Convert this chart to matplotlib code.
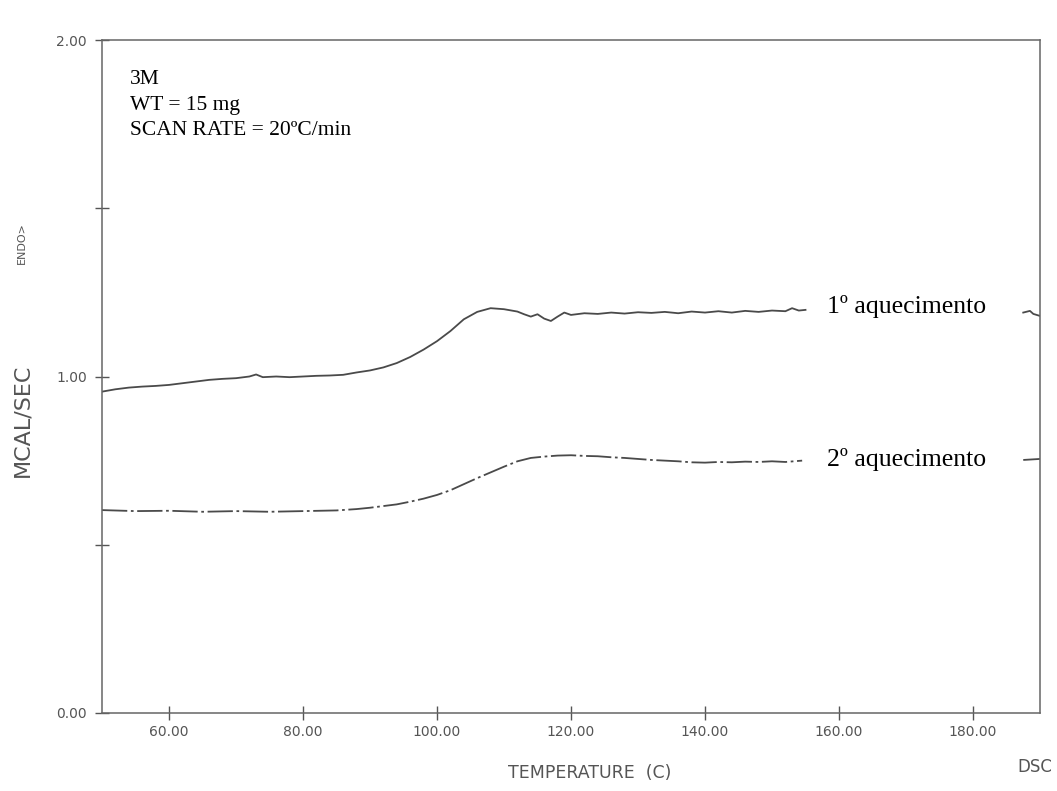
import numpy as np
import matplotlib
matplotlib.use('Agg')
import matplotlib.pyplot as plt

# 1st heating (solid), NaN marks the part hidden behind the label
temp1 = [50, 52, 54, 56, 58, 60, 62, 64, 66, 68, 70, 72, 73, 74, 76, 78, 80,
         82, 84, 86, 88, 90, 92, 94, 96, 98, 100, 102, 104, 106, 108, 110,
         112, 113, 114, 115, 116, 117, 118, 119, 120, 122, 124, 126, 128, 130,
         132, 134, 136, 138, 140, 142, 144, 146, 148, 150, 152, 153, 154, 155,
         170, 187.5, 188.5, 189, 190]
heat1 = [0.955, 0.962, 0.967, 0.970, 0.972, 0.975, 0.980, 0.985, 0.990, 0.993,
         0.995, 1.000, 1.006, 0.998, 1.000, 0.998, 1.000, 1.002, 1.003, 1.005,
         1.012, 1.018, 1.027, 1.040, 1.058, 1.080, 1.105, 1.135, 1.170, 1.192,
         1.203, 1.200, 1.193, 1.185, 1.178, 1.185, 1.172, 1.165, 1.178, 1.190,
         1.183, 1.188, 1.186, 1.190, 1.187, 1.191, 1.189, 1.192, 1.188, 1.193,
         1.190, 1.194, 1.190, 1.195, 1.192, 1.196, 1.194, 1.203, 1.196, 1.198,
         np.nan, 1.190, 1.195, 1.186, 1.180]

# 2nd heating (dash-dot)
temp2 = [50, 55, 60, 65, 70, 75, 80, 85, 88, 90, 92, 94, 96, 98, 100, 102, 104,
         106, 108, 110, 112, 114, 116, 118, 120, 122, 124, 126, 128, 130, 132,
         134, 136, 138, 140, 142, 144, 146, 148, 150, 152, 154.5,
         170, 187.5, 190]
heat2 = [0.603, 0.600, 0.601, 0.598, 0.600, 0.598, 0.600, 0.602, 0.606, 0.610,
         0.615, 0.620, 0.628, 0.637, 0.648, 0.662, 0.680, 0.698, 0.715, 0.732,
         0.748, 0.758, 0.762, 0.765, 0.766, 0.764, 0.763, 0.760, 0.758, 0.755,
         0.752, 0.750, 0.748, 0.745, 0.744, 0.746, 0.745, 0.747, 0.746, 0.748,
         0.746, 0.750, np.nan, 0.752, 0.755]

xticks = [60, 80, 100, 120, 140, 160, 180]
yticks = [0.0, 1.0, 2.0]

fig = plt.figure(figsize=(10.57, 7.91), dpi=100)
ax = fig.add_axes([102 / 1057, 1 - 713 / 791, 938 / 1057, 673 / 791])

ink = '#4a4a4a'
ax.plot(temp1, heat1, color=ink, lw=1.3)
ax.plot(temp2, heat2, color=ink, lw=1.3, linestyle=(0, (14, 2, 1.5, 2)))

ax.set_xlim(50, 190)
ax.set_ylim(0, 2)
ax.set_xticks(xticks)
ax.set_xticklabels(['%.2f' % t for t in xticks])
ax.set_yticks(yticks)
ax.set_yticklabels(['%.2f' % t for t in yticks])
ax.set_yticks([0.5, 1.5], minor=True)
ax.tick_params(axis='both', which='both', direction='inout', length=10,
               width=1, color='#555555', labelcolor='#555555', labelsize=10)
ax.tick_params(axis='x', pad=4)
ax.tick_params(axis='y', pad=6)
for s in ax.spines.values():
    s.set_color('#666666')
    s.set_linewidth(1.1)

serif = 'Liberation Serif'
ax.text(0.03, 0.955, '3M\nWT = 15 mg\nSCAN RATE = 20ºC/min',
        transform=ax.transAxes, family=serif, fontsize=15.5,
        va='top', ha='left', linespacing=1.45)
ax.text(158.2, 1.207, '1º aquecimento', family=serif, fontsize=18.5,
        va='center', ha='left', zorder=4)
ax.text(158.2, 0.752, '2º aquecimento', family=serif, fontsize=18.5,
        va='center', ha='left', zorder=4)

fig.text(22 / 1057, 1 - 420 / 791, 'MCAL/SEC', rotation=90, fontsize=16,
         color='#555555', ha='center', va='center')
fig.text(22 / 1057, 1 - 243 / 791, 'ENDO>', rotation=90, fontsize=8,
         color='#555555', ha='center', va='center')
fig.text(590 / 1057, 1 - 773 / 791, 'TEMPERATURE  (C)', fontsize=12.5,
         color='#555555', ha='center', va='center')
fig.text(1035 / 1057, 1 - 767 / 791, 'DSC', fontsize=12,
         color='#555555', ha='center', va='center')

fig.savefig('out.png', dpi=100)
